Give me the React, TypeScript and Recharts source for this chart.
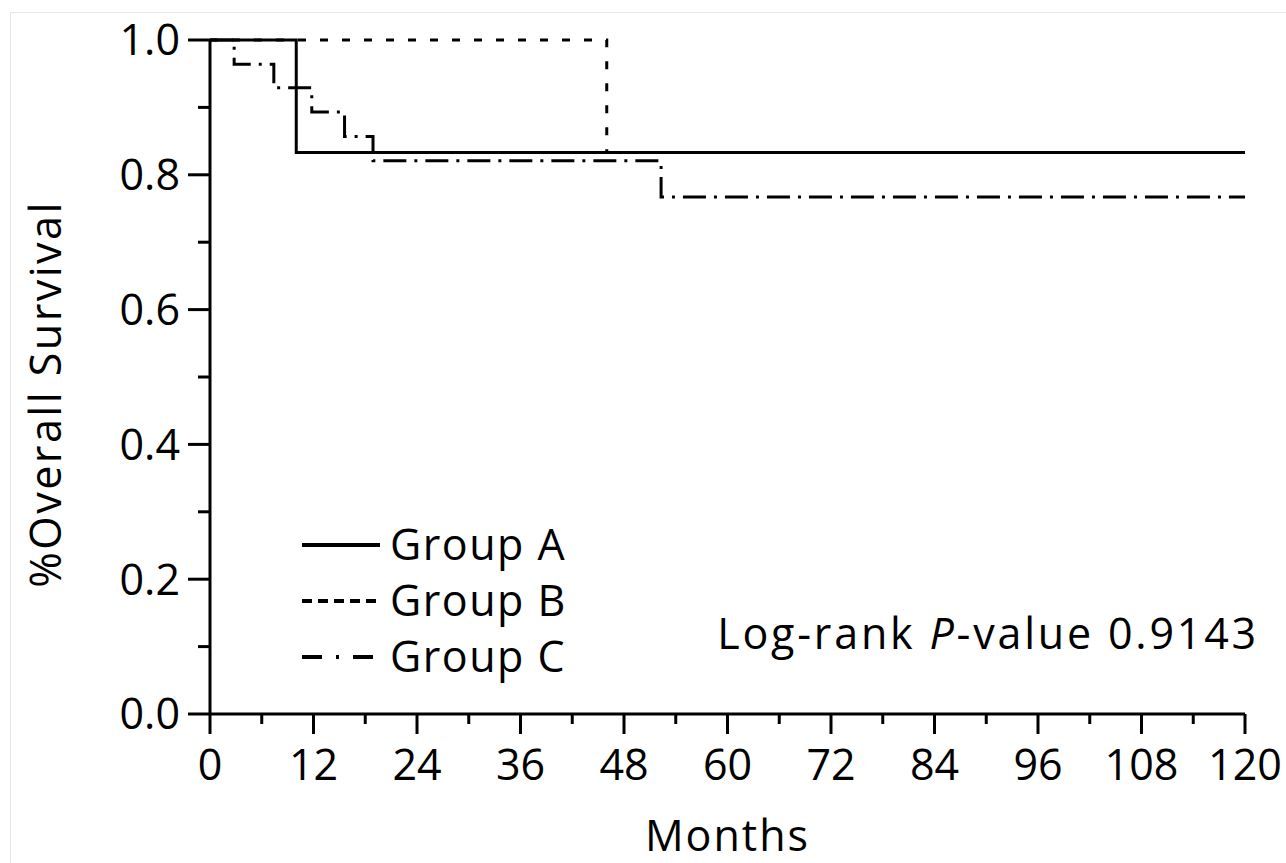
import { LineChart, Line, XAxis, YAxis } from "recharts";

const FONT = '"Open Sans", "Noto Sans", sans-serif';
const FS = 43;

// Kaplan-Meier step points (months, survival)
const groupAMonths = [0, 10, 120];
const groupASurvival = [1, 0.833, 0.833];

const groupBMonths = [0, 46, 120];
const groupBSurvival = [1, 0.833, 0.833];

const groupCMonths = [0, 2.8, 7.4, 11.8, 15.6, 18.9, 52.3, 120];
const groupCSurvival = [1, 0.964, 0.929, 0.893, 0.857, 0.821, 0.767, 0.767];

const monthTicks = [0, 6, 12, 18, 24, 30, 36, 42, 48, 54, 60, 66, 72, 78, 84, 90, 96, 102, 108, 114, 120];
const survivalTicks = [0, 0.1, 0.2, 0.3, 0.4, 0.5, 0.6, 0.7, 0.8, 0.9, 1.0];

const toPoints = (months: number[], surv: number[]) =>
  months.map((m, i) => ({ month: m, survival: surv[i] }));

const series = [
  { name: "Group C", data: toPoints(groupCMonths, groupCSurvival), dash: "23 8 3 8", legendDash: "20 14 3 14" },
  { name: "Group B", data: toPoints(groupBMonths, groupBSurvival), dash: "8 14", legendDash: "10 6" },
  { name: "Group A", data: toPoints(groupAMonths, groupASurvival), dash: undefined, legendDash: undefined },
];

const legendOrder = ["Group A", "Group B", "Group C"];

function XTick(props: any) {
  const { x, y, payload } = props;
  const major = payload.value % 12 === 0;
  return (
    <g>
      <line x1={x} x2={x} y1={y} y2={y + (major ? 20 : 10)} stroke="#000" strokeWidth={3} />
      {major && (
        <text x={x} y={y + 66} textAnchor="middle" fontSize={FS} fill="#000" fontFamily={FONT}>
          {payload.value}
        </text>
      )}
    </g>
  );
}

function YTick(props: any) {
  const { x, y, payload } = props;
  const major = Math.round(payload.value * 10) % 2 === 0;
  return (
    <g>
      <line x1={x} x2={x - (major ? 22 : 12)} y1={y} y2={y} stroke="#000" strokeWidth={3} />
      {major && (
        <text x={x - 30} y={y} dy="0.36em" textAnchor="end" fontSize={FS} fill="#000" fontFamily={FONT}>
          {payload.value.toFixed(1)}
        </text>
      )}
    </g>
  );
}

export default function App() {
  return (
    <div style={{ position: "absolute", left: 0, top: 0, width: 1286, height: 863, background: "#fff", fontFamily: FONT }}>
      <div
        style={{
          position: "absolute",
          left: 10,
          top: 12,
          right: 0,
          bottom: 0,
          borderTop: "1px solid #e6e6e6",
          borderLeft: "1px solid #e6e6e6",
        }}
      />
      <LineChart width={1286} height={863} margin={{ top: 40, right: 41, bottom: 0, left: 0 }}>
        <XAxis
          dataKey="month"
          type="number"
          domain={[0, 120]}
          ticks={monthTicks}
          interval={0}
          tickLine={false}
          tickSize={0}
          tickMargin={0}
          tick={<XTick />}
          height={149}
          axisLine={{ stroke: "#000", strokeWidth: 3 }}
          allowDuplicatedCategory={false}
        />
        <YAxis
          type="number"
          domain={[0, 1]}
          ticks={survivalTicks}
          interval={0}
          tickLine={false}
          tickSize={0}
          tickMargin={0}
          tick={<YTick />}
          width={210}
          axisLine={{ stroke: "#000", strokeWidth: 3 }}
        />
        {series.map((s) => (
          <Line
            key={s.name}
            data={s.data}
            dataKey="survival"
            type="stepAfter"
            stroke="#000"
            strokeWidth={3}
            strokeDasharray={s.dash}
            dot={false}
            activeDot={false}
            isAnimationActive={false}
          />
        ))}
      </LineChart>

      {/* legend */}
      <svg style={{ position: "absolute", left: 300, top: 505 }} width={340} height={190}>
        {legendOrder.map((name, i) => {
          const s = series.find((q) => q.name === name)!;
          const cy = 40 + i * 56;
          return (
            <g key={name}>
              <line x1={2} x2={80} y1={cy} y2={cy} stroke="#000" strokeWidth={4} strokeDasharray={s.legendDash} />
              <text x={90} y={cy} dy="0.36em" fontSize={FS} fontFamily={FONT} fill="#000" letterSpacing={1.5}>
                {name}
              </text>
            </g>
          );
        })}
      </svg>

      <div
        style={{
          position: "absolute",
          right: 27,
          top: 603,
          fontSize: FS,
          lineHeight: "60px",
          whiteSpace: "nowrap",
          letterSpacing: 2.8,
          color: "#000",
        }}
      >
        Log-rank <i>P</i>-value 0.9143
      </div>

      <div
        style={{
          position: "absolute",
          left: 0,
          width: 1455,
          top: 805,
          textAlign: "center",
          fontSize: FS,
          lineHeight: "60px",
          letterSpacing: 2,
          color: "#000",
        }}
      >
        Months
      </div>

      <div
        style={{
          position: "absolute",
          left: 45,
          top: 394,
          transform: "translate(-50%, -50%) rotate(-90deg)",
          fontSize: FS,
          lineHeight: "60px",
          whiteSpace: "nowrap",
          letterSpacing: 2.5,
          color: "#000",
        }}
      >
        %Overall Survival
      </div>
    </div>
  );
}
